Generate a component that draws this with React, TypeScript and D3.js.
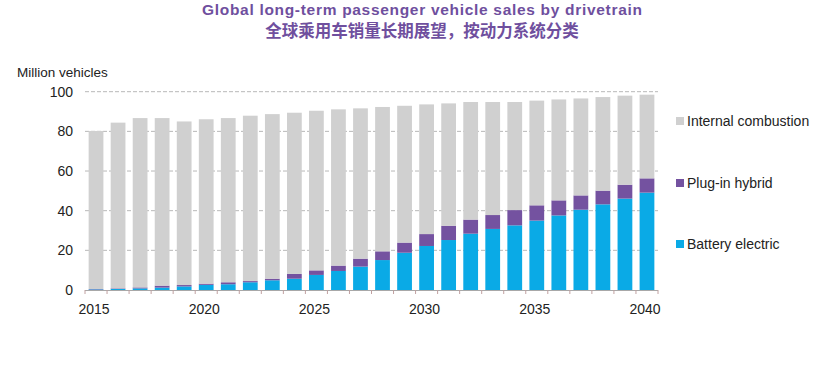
import React, { useEffect, useRef } from 'react';
import * as d3 from 'd3';

const years = d3.range(2015, 2041).map(String);
const tickYears = ["2015", "2020", "2025", "2030", "2035", "2040"];

// Million vehicles
const battery = [0.3, 0.5, 0.8, 1.2, 1.8, 2.6, 2.9, 3.9, 4.9, 5.7, 7.6, 9.6, 11.8, 15.1, 18.8, 22.2, 25.2, 28.4, 30.8, 32.6, 35.0, 37.6, 40.5, 43.2, 46.1, 49.1];
const plugTop = [0.5, 0.8, 1.3, 2.2, 2.5, 3.2, 3.9, 4.5, 5.7, 8.1, 9.9, 12.3, 15.8, 19.5, 23.9, 28.2, 32.4, 35.5, 37.8, 40.3, 42.7, 45.2, 47.7, 50.1, 53.1, 56.3];
const total = [80.2, 84.4, 86.7, 86.7, 85.0, 86.1, 86.7, 87.9, 88.7, 89.4, 90.4, 91.1, 91.6, 92.3, 92.9, 93.6, 94.1, 94.8, 94.8, 94.8, 95.5, 96.1, 96.6, 97.3, 98.0, 98.5];
const plugin = plugTop.map((v, i) => +(v - battery[i]).toFixed(1));
const combustion = total.map((v, i) => +(v - plugTop[i]).toFixed(1));

const seriesKeys = ["Battery electric", "Plug-in hybrid", "Internal combustion"];
const colors = ["#0aaae6", "#7452a0", "#d0d0d0"];
const yTicks = [0, 20, 40, 60, 80, 100];

const App: React.FC = () => {
  const ref = useRef<SVGSVGElement | null>(null);

  useEffect(() => {
    if (!ref.current) return;
    const svg = d3.select(ref.current);
    svg.selectAll("*").remove();

    const font = "Liberation Sans, Arial, sans-serif";
    const left = 85, right = 658, top = 91.7, bottom = 290;

    const x = d3.scaleBand().domain(years).range([left, right]).paddingInner(0.33).paddingOuter(0.165);
    const y = d3.scaleLinear().domain([0, 100]).range([bottom, top]);
    const color = d3.scaleOrdinal<string>().domain(seriesKeys).range(colors);

    const rows = years.map((yr, i) => ({
      year: yr,
      "Battery electric": battery[i],
      "Plug-in hybrid": plugin[i],
      "Internal combustion": combustion[i],
    }));
    const stacked = d3.stack<any>().keys(seriesKeys)(rows);

    // title
    svg.append("text")
      .attr("x", 422).attr("y", 15)
      .attr("text-anchor", "middle")
      .attr("font-family", font).attr("font-weight", "bold").attr("font-size", 15.5)
      .attr("fill", "#6f4f9e")
      .attr("textLength", 440)
      .text("Global long-term passenger vehicle sales by drivetrain");
    svg.append("text")
      .attr("x", 422).attr("y", 37)
      .attr("text-anchor", "middle")
      .attr("font-family", "Noto Sans CJK SC, sans-serif").attr("font-weight", "bold").attr("font-size", 16.5)
      .attr("fill", "#6f4f9e")
      .text("全球乘用车销量长期展望，按动力系统分类");

    // gridlines
    svg.append("g")
      .selectAll("line")
      .data(yTicks.filter(t => t > 0))
      .join("line")
      .attr("x1", left).attr("x2", right)
      .attr("y1", d => y(d)).attr("y2", d => y(d))
      .attr("stroke", "#b8b8b8").attr("stroke-width", 1)
      .attr("stroke-dasharray", "4,2");

    // bars
    svg.append("g")
      .selectAll("g")
      .data(stacked)
      .join("g")
      .attr("fill", d => color(d.key))
      .selectAll("rect")
      .data(d => d)
      .join("rect")
      .attr("x", d => x(d.data.year) as number)
      .attr("width", x.bandwidth())
      .attr("y", d => y(d[1]))
      .attr("height", d => y(d[0]) - y(d[1]));

    // x axis line and ticks
    const axis = svg.append("g");
    axis.append("line")
      .attr("x1", left).attr("x2", right)
      .attr("y1", bottom + 0.5).attr("y2", bottom + 0.5)
      .attr("stroke", "#a8a8a8");
    const step = x.step();
    axis.selectAll("line.tick")
      .data(d3.range(years.length + 1))
      .join("line")
      .attr("class", "tick")
      .attr("x1", i => left + i * step).attr("x2", i => left + i * step)
      .attr("y1", bottom).attr("y2", bottom + 4)
      .attr("stroke", "#c0a0a0");
    axis.selectAll("text")
      .data(tickYears)
      .join("text")
      .attr("x", d => (x(d) as number) + x.bandwidth() / 2 - 2)
      .attr("y", 314)
      .attr("text-anchor", "middle")
      .attr("font-family", font).attr("font-size", 14)
      .attr("fill", "#222")
      .text(d => d);

    // y labels
    svg.append("g")
      .selectAll("text")
      .data(yTicks)
      .join("text")
      .attr("x", 73)
      .attr("y", d => y(d))
      .attr("dy", "0.35em")
      .attr("text-anchor", "end")
      .attr("font-family", font).attr("font-size", 14)
      .attr("fill", "#222")
      .text(d => d);

    svg.append("text")
      .attr("x", 17).attr("y", 77)
      .attr("font-family", font).attr("font-size", 13.5)
      .attr("fill", "#222")
      .text("Million vehicles");

    // legend
    const legendY: Record<string, number> = {
      "Internal combustion": 121,
      "Plug-in hybrid": 183,
      "Battery electric": 244,
    };
    const legend = svg.append("g")
      .selectAll("g")
      .data(seriesKeys)
      .join("g")
      .attr("transform", d => `translate(676,${legendY[d]})`);
    legend.append("rect")
      .attr("x", 0).attr("y", -4)
      .attr("width", 8).attr("height", 8)
      .attr("fill", d => color(d));
    legend.append("text")
      .attr("x", 11).attr("y", 0)
      .attr("dy", "0.35em")
      .attr("font-family", font).attr("font-size", 14)
      .attr("fill", "#222")
      .text(d => d);
  }, []);

  return <svg ref={ref} width={820} height={368} style={{ position: "absolute", left: 0, top: 0, background: "#fff" }} />;
};

export default App;
